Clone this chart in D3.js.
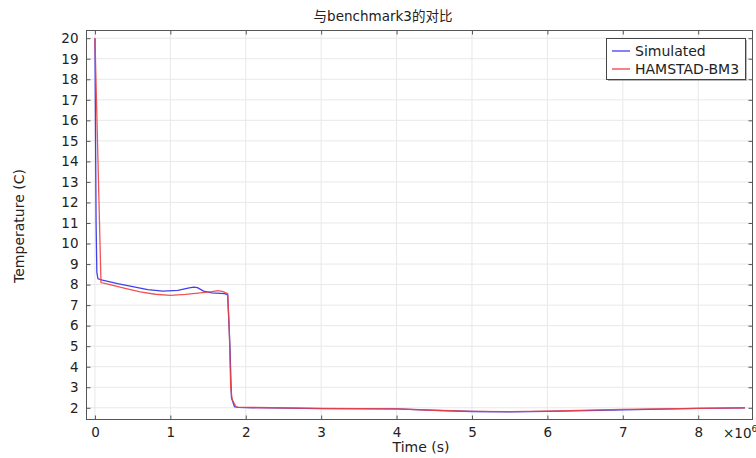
<!DOCTYPE html>
<html><head><meta charset="utf-8">
<script src="https://cdn.jsdelivr.net/npm/d3@7"></script>
<style>
body{margin:0;background:#fff;}
svg{display:block;font-family:"DejaVu Sans","Noto Sans CJK SC",sans-serif;}
</style></head>
<body><svg id="c" width="756" height="458"></svg>
<script>
const title = "与benchmark3的对比";
const xLabel = "Time (s)";
const yLabel = "Temperature (C)";
const xTicks = [0,1,2,3,4,5,6,7,8];
const yTicks = [2,3,4,5,6,7,8,9,10,11,12,13,14,15,16,17,18,19,20];
const seriesNames = ["Simulated","HAMSTAD-BM3"];
const seriesColors = ["#4040ea","#ef4040"];
// time in units of 1e6 s
const simT = [0,0.015,0.025,0.04,0.1,0.3,0.5,0.7,0.9,1.1,1.25,1.31,1.36,1.44,1.55,1.72,1.76,1.79,1.81,1.85,1.9,2,3,4,4.5,5,5.5,6,7,8,8.62];
const simV = [20,11,8.6,8.28,8.22,8.05,7.9,7.76,7.68,7.72,7.84,7.88,7.85,7.68,7.6,7.56,7.5,5,2.5,2.05,2.02,2.01,1.96,1.95,1.87,1.82,1.8,1.83,1.9,1.97,2.0];
const hamT = [0,0.08,0.2,0.4,0.6,0.8,1.0,1.2,1.4,1.55,1.63,1.7,1.76,1.78,1.8,1.82,1.87,1.9,2,3,4,4.5,5,5.5,6,7,8,8.62];
const hamV = [20,8.1,8.0,7.82,7.65,7.53,7.48,7.52,7.6,7.66,7.71,7.66,7.56,6,3,2.4,2.05,2.02,2.02,1.97,1.95,1.88,1.83,1.81,1.84,1.92,1.97,2.0];

const svg = d3.select("#c");
const L=86.5, R=752.5, T=30.5, B=419.5;
const x = d3.scaleLinear().domain([-0.112, 8.72]).range([L,R]);
const y = d3.scaleLinear().domain([1.43, 20.375]).range([B,T]);

// grid
const g = svg.append("g");
g.selectAll(".gx").data(xTicks).enter().append("line")
 .attr("x1",d=>x(d)).attr("x2",d=>x(d)).attr("y1",T).attr("y2",B)
 .attr("stroke","#e8e8e8").attr("stroke-width",1);
g.selectAll(".gy").data(yTicks).enter().append("line")
 .attr("y1",d=>y(d)).attr("y2",d=>y(d)).attr("x1",L).attr("x2",R)
 .attr("stroke","#e8e8e8").attr("stroke-width",1);

// axes with inward ticks
const axStyle = sel=>{sel.select(".domain").remove();sel.selectAll("line").attr("stroke","#555");sel.selectAll("text").attr("fill","#222").style("font-size","13.5px").style("font-family","DejaVu Sans");};
svg.append("g").attr("transform",`translate(0,${B})`)
 .call(d3.axisBottom(x).tickValues(xTicks).tickSizeInner(-4).tickSizeOuter(0).tickPadding(8).tickFormat(d3.format("d"))).call(axStyle);
svg.append("g").attr("transform",`translate(0,${T})`)
 .call(d3.axisTop(x).tickValues(xTicks).tickSizeInner(-4).tickSizeOuter(0).tickFormat("")).call(axStyle);
svg.append("g").attr("transform",`translate(${L},0)`)
 .call(d3.axisLeft(y).tickValues(yTicks).tickSizeInner(-4).tickSizeOuter(0).tickPadding(8).tickFormat(d3.format("d"))).call(axStyle);
svg.append("g").attr("transform",`translate(${R},0)`)
 .call(d3.axisRight(y).tickValues(yTicks).tickSizeInner(-4).tickSizeOuter(0).tickFormat("")).call(axStyle);

svg.append("rect").attr("x",L).attr("y",T).attr("width",R-L).attr("height",B-T)
 .attr("fill","none").attr("stroke","#555").attr("stroke-width",1);

// lines
const line = d3.line().x(d=>x(d[0])).y(d=>y(d[1]));
svg.append("clipPath").attr("id","cp").append("rect").attr("x",L).attr("y",T).attr("width",R-L).attr("height",B-T);
const series = [d3.zip(simT,simV), d3.zip(hamT,hamV)];
svg.append("path").datum(series[0]).attr("d",line).attr("fill","none").attr("stroke",seriesColors[0]).attr("stroke-width",1.3).attr("clip-path","url(#cp)");
svg.append("path").datum(series[1]).attr("d",line).attr("fill","none").attr("stroke",seriesColors[1]).attr("stroke-width",1.3).attr("clip-path","url(#cp)").attr("opacity",0.9);

// title and labels
svg.append("text").attr("x",383).attr("y",21).attr("text-anchor","middle").style("font-size","13.5px").attr("fill","#222").text(title);
svg.append("text").attr("x",421).attr("y",452).attr("text-anchor","middle").style("font-size","14px").attr("fill","#222").text(xLabel);
svg.append("text").attr("transform","translate(24,226) rotate(-90)").attr("text-anchor","middle").style("font-size","14px").attr("fill","#222").text(yLabel);
const ex = svg.append("text").attr("x",723).attr("y",438).style("font-size","13.5px").attr("fill","#222");
ex.append("tspan").text("×10");
ex.append("tspan").attr("dy",-6).style("font-size","9px").text("6");

// legend
const lg = svg.append("g");
lg.append("rect").attr("x",608).attr("y",40).attr("width",139).attr("height",41).attr("fill","#888").attr("opacity",0.6);
lg.append("rect").attr("x",606.5).attr("y",38.5).attr("width",139).attr("height",41).attr("fill","#fff").attr("stroke","#444");
seriesNames.forEach((n,i)=>{
  const yy = 51 + i*18;
  lg.append("line").attr("x1",612).attr("x2",630).attr("y1",yy).attr("y2",yy).attr("stroke",seriesColors[i]).attr("stroke-width",1.3);
  lg.append("text").attr("x",635).attr("y",yy+5).style("font-size","14px").attr("fill","#222").text(n);
});
</script></body></html>
